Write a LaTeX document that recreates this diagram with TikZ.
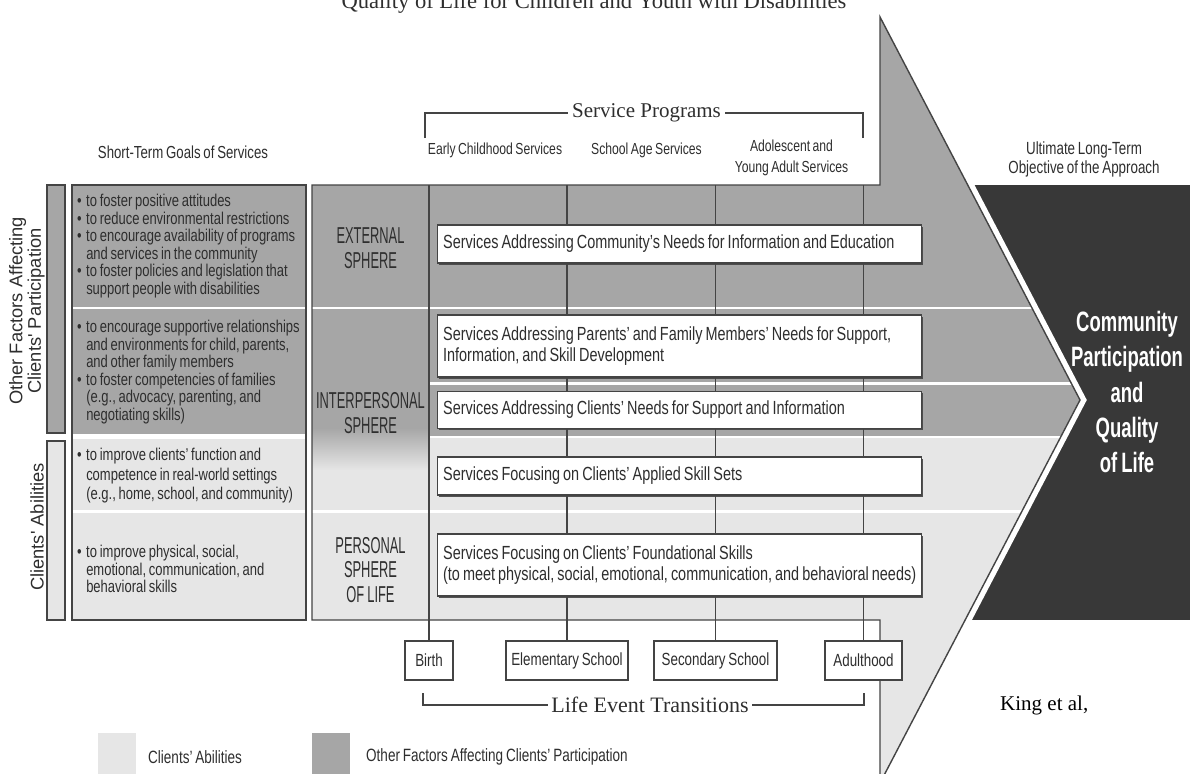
\documentclass[tikz,border=0pt]{standalone}
\usepackage{fontspec}
\setmainfont{Liberation Sans}[FakeStretch=0.76,WordSpace=0.76]
\newfontfamily\tallcaps{Liberation Sans}[FakeStretch=0.56,WordSpace=0.85]
\newfontfamily\boldcond{Liberation Sans}[FakeStretch=0.66,WordSpace=0.8]
\newfontfamily\widesans{Liberation Sans}
\newfontfamily\bookserif{Liberation Serif}
\usetikzlibrary{shadows}

\definecolor{banddark}{HTML}{A6A6A6}
\definecolor{bandlight}{HTML}{E6E6E6}
\definecolor{edge}{HTML}{444444}
\definecolor{objdark}{HTML}{383838}
\definecolor{ink}{HTML}{2E2E2E}

% bullets of the goal lists, with a hanging indent for continuation lines
\newcommand\goalbullet{\textbullet\hspace{4.5pt}}
\newcommand\goalindent{\hphantom{\textbullet}\hspace{4.5pt}}

% outline of the big arrow: body behind the spheres and services, head pointing right
\def\arrowpath{(312,185) -- (880,185) -- (880,17) -- (1080,400) -- (880,783) -- (880,620) -- (312,620) -- cycle}

\begin{document}
\begin{tikzpicture}[x=1pt,y=-1pt,
  every node/.append style={text=ink},
  frame/.style={draw=edge,line width=1.4pt},
  svc/.style={draw=edge,line width=1.3pt,fill=white,text width=473pt,inner xsep=5.5pt,inner ysep=0pt,
    align=flush left,anchor=west,font=\fontsize{19}{21.5}\selectfont,
    drop shadow={shadow xshift=1.3pt,shadow yshift=-1.5pt,fill=edge,opacity=0.9}},
  life/.style={draw=edge,line width=1.3pt,fill=white,minimum height=39pt,inner xsep=2pt,
    font=\fontsize{17.6}{18}\selectfont},
  goal/.style={anchor=west,align=left,inner sep=0pt,font=\fontsize{17.1}{17.6}\selectfont},
  sphere/.style={align=center,inner sep=0pt,font=\tallcaps\fontsize{23}{24.5}\selectfont},
  colhead/.style={align=center,inner sep=0pt,font=\fontsize{16}{20.5}\selectfont},
  legendtext/.style={anchor=west,inner sep=0pt,font=\fontsize{17.8}{18}\selectfont},
  sidelabel/.style={rotate=90,align=center,inner sep=0pt,font=\widesans\fontsize{18.3}{18.5}\selectfont},
  bracket/.style={draw=edge,line width=1.3pt},
  sepline/.style={draw=white,line width=2.6pt}
]
\useasboundingbox (0,0) rectangle (1190,773);

% running title, partly above the page edge
\node[anchor=base,inner sep=0pt,font=\bookserif\fontsize{22.6}{22.6}\selectfont] (title) at (594,9)
  {Quality of Life for Children and Youth with Disabilities};

% dark panel of the long-term objective
\fill[objdark] (955,185) rectangle (1190,620);

% white halo separating the arrow head from the panel
\draw[white,line width=12pt,line join=miter] (880,17) -- (1080,400) -- (880,783);

% arrow fill: dark bands for other factors, light bands for clients' abilities
\begin{scope}
  \clip \arrowpath;
  \fill[banddark] (300,0) rectangle (1100,437);
  \fill[bandlight] (300,437) rectangle (1100,790);
  \shade[top color=banddark,bottom color=bandlight] (312,428) rectangle (429,470);
  \draw[sepline] (312,308) -- (1100,308);
  \draw[sepline] (312,511.5) -- (1100,511.5);
  \draw[sepline] (429,383.5) -- (1100,383.5);
  \draw[sepline] (429,437) -- (1100,437);
\end{scope}
\draw[frame] \arrowpath;

% life event transitions
\node[life,minimum width=48pt]  (birth) at (429,660.5)   {Birth};
\node[life,minimum width=122pt] (elem)  at (567,660.5)   {Elementary School};
\node[life,minimum width=123pt] (sec)   at (715.5,660.5) {Secondary School};
\node[life,minimum width=77pt]  (adult) at (863.5,660.5) {Adulthood};

% timeline verticals running through the service programs
\coordinate (t0) at (429,185);
\coordinate (t1) at (567,185);
\coordinate (t2) at (715.5,185);
\coordinate (t3) at (863.5,185);
\draw[frame] (t0) -- (t0 |- birth.north);
\draw[frame] (t1) -- (t1 |- elem.north);
\draw[frame] (t2) -- (t2 |- sec.north);
\draw[frame] (t3) -- (t3 |- adult.north);

% services
\node[svc,minimum height=38pt] (s1) at (437,244)
  {Services Addressing Community's Needs for Information and Education};
\node[svc,minimum height=62pt] (s2) at (437,346)
  {Services Addressing Parents' and Family Members' Needs for Support,\\Information, and Skill Development};
\node[svc,minimum height=37pt] (s3) at (437,410)
  {Services Addressing Clients' Needs for Support and Information};
\node[svc,minimum height=38pt] (s4) at (437,476)
  {Services Focusing on Clients' Applied Skill Sets};
\node[svc,minimum height=62pt] (s5) at (437,565)
  {Services Focusing on Clients' Foundational Skills\\(to meet physical, social, emotional, communication, and behavioral needs)};

% spheres
\node[sphere] (ext) at (370.5,248) {EXTERNAL\\SPHERE};
\node[sphere] (inter) at (370.5,413) {INTERPERSONAL\\SPHERE};
\node[sphere] (pers) at (370.5,570) {PERSONAL\\SPHERE\\OF LIFE};

% short-term goals column
\fill[banddark] (72,185) rectangle (306,434);
\fill[bandlight] (72,439) rectangle (306,620);
\draw[sepline] (72,308) -- (306,308);
\draw[sepline] (72,511.5) -- (306,511.5);
\draw[frame] (72,185) rectangle (306,620);

\node[goal] (g1) at (77,246)
  {\goalbullet to foster positive attitudes\\
   \goalbullet to reduce environmental restrictions\\
   \goalbullet to encourage availability of programs\\
   \goalindent and services in the community\\
   \goalbullet to foster policies and legislation that\\
   \goalindent support people with disabilities};
\node[goal] (g2) at (77,372)
  {\goalbullet to encourage supportive relationships\\
   \goalindent and environments for child, parents,\\
   \goalindent and other family members\\
   \goalbullet to foster competencies of families\\
   \goalindent (e.g., advocacy, parenting, and\\
   \goalindent negotiating skills)};
\node[goal,font=\fontsize{17.1}{19.5}\selectfont] (g3) at (77,476)
  {\goalbullet to improve clients' function and\\
   \goalindent competence in real-world settings\\
   \goalindent (e.g., home, school, and community)};
\node[goal] (g4) at (77,569)
  {\goalbullet to improve physical, social,\\
   \goalindent emotional, communication, and\\
   \goalindent behavioral skills};

% side bars and their labels
\draw[frame,fill=banddark] (47,185) rectangle (65,433);
\draw[frame,fill=bandlight] (47,441) rectangle (65,620);
\node[sidelabel] (sideother) at (27,311) {Other Factors Affecting\\Clients' Participation};
\node[sidelabel] (sideabil) at (37,527) {Clients' Abilities};

% column headings
\node[colhead,font=\fontsize{17.4}{18}\selectfont] (goalhead) at (183,152) {Short-Term Goals of Services};
\node[colhead] (early) at (495,150) {Early Childhood Services};
\node[colhead] (school) at (646.5,150) {School Age Services};
\node[colhead] (adol) at (791.5,158) {Adolescent and\\Young Adult Services};
\node[colhead,font=\fontsize{17.6}{19}\selectfont] (ulthead) at (1084,159) {Ultimate Long-Term\\Objective of the Approach};

% service programs bracket
\node[font=\bookserif\fontsize{21}{21}\selectfont,inner sep=4pt] (progs) at (646.5,113) {Service Programs};
\coordinate (pl) at (425,138);
\coordinate (pr) at (863,138);
\draw[bracket] (pl) |- (progs.west);
\draw[bracket] (pr) |- (progs.east);

% life event bracket
\node[font=\bookserif\fontsize{22}{22}\selectfont,inner sep=3pt] (events) at (650,705) {Life Event Transitions};
\coordinate (el) at (423,693);
\coordinate (er) at (864,693);
\draw[bracket] (el) |- (events.west);
\draw[bracket] (er) |- (events.east);

% long-term objective
\node[align=center,inner sep=0pt,text=white,font=\boldcond\bfseries\fontsize{28}{35.3}\selectfont] (goal) at (1127,392)
  {Community\\Participation\\and\\Quality\\of Life};

% legend
\fill[bandlight] (98,733) rectangle (136,780);
\fill[banddark] (312,733) rectangle (350,780);
\node[legendtext] (leglight) at (148,757) {Clients' Abilities};
\node[legendtext] (legdark) at (366,757) {Other Factors Affecting Clients' Participation};

% source
\node[anchor=west,inner sep=0pt,text=black,font=\bookserif\fontsize{21}{21}\selectfont] (src) at (1000,705) {King et al,};
\end{tikzpicture}
\end{document}
